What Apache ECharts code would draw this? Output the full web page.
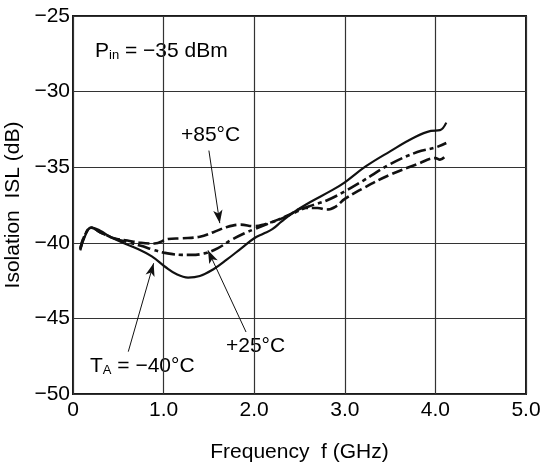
<!DOCTYPE html>
<html>
<head>
<meta charset="utf-8">
<script src="https://cdn.jsdelivr.net/npm/echarts@6/dist/echarts.min.js"></script>
<style>html,body{margin:0;padding:0;background:#fff}#c{width:541px;height:470px}</style>
</head>
<body>
<div id="c"></div>
<script>
// Frequency (GHz) / Isolation (dB)
var freqM40 = [0.08,0.13,0.2,0.3,0.41,0.55,0.71,0.87,1.02,1.15,1.27,1.4,1.55,1.7,1.85,2.0,2.1,2.2,2.3,2.43,2.62,2.85,3.0,3.23,3.5,3.76,3.95,4.05,4.12];
var islM40  = [-40.5,-39.6,-38.97,-39.2,-39.6,-40.0,-40.4,-40.9,-41.6,-42.1,-42.3,-42.2,-41.75,-41.1,-40.4,-39.7,-39.4,-39.1,-38.6,-38.0,-37.3,-36.55,-36.0,-34.95,-33.95,-33.05,-32.6,-32.55,-32.05];

var freqP85 = [0.08,0.13,0.2,0.3,0.45,0.6,0.75,0.9,1.05,1.2,1.4,1.55,1.7,1.85,2.0,2.1,2.25,2.4,2.55,2.7,2.8,2.9,3.0,3.2,3.5,3.8,4.0,4.05,4.12];
var islP85  = [-40.4,-39.5,-39.0,-39.3,-39.7,-39.85,-40.0,-40.05,-39.75,-39.7,-39.6,-39.3,-38.95,-38.8,-38.9,-38.8,-38.5,-38.1,-37.7,-37.7,-37.8,-37.6,-37.1,-36.4,-35.5,-34.8,-34.4,-34.5,-34.2];

var freqP25 = [0.08,0.13,0.2,0.3,0.45,0.6,0.75,0.88,1.0,1.1,1.2,1.3,1.45,1.6,1.75,1.9,2.0,2.15,2.3,2.45,2.6,2.8,3.0,3.2,3.5,3.8,4.0,4.12];
var islP25  = [-40.4,-39.5,-39.0,-39.3,-39.7,-39.95,-40.2,-40.45,-40.65,-40.75,-40.8,-40.8,-40.7,-40.35,-39.8,-39.35,-39.1,-38.75,-38.4,-38.0,-37.6,-37.2,-36.6,-35.9,-34.8,-34.0,-33.7,-33.4];

var xTicks = ["0","1.0","2.0","3.0","4.0","5.0"];
var yTicks = ["\u221250","\u221245","\u221240","\u221235","\u221230","\u221225"];

var notePin = "P{sub|in} = \u221235 dBm";
var label85 = "+85\u00b0C";
var label25 = "+25\u00b0C";
var labelM40 = "T{sub|A} = \u221240\u00b0C";

// arrows: [fromF, fromISL, toF, toISL]
var arrow85 = [1.50, -33.9, 1.62, -38.7];
var arrow25 = [1.91, -45.9, 1.49, -40.5];
var arrowM40 = [0.61, -47.2, 0.89, -41.35];

function zip(a, b) { return a.map(function (v, i) { return [v, b[i]]; }); }
function arrow(a) {
  return [[{coord: [a[0], a[1]], symbol: 'none'}, {coord: [a[2], a[3]], symbol: 'arrow', symbolSize: [7, 13]}]];
}

var FONT = '"Liberation Sans", Arial, sans-serif';
var FS = 21;
var chart = echarts.init(document.getElementById('c'));
chart.setOption({
  animation: false,
  textStyle: {fontFamily: FONT},
  grid: {left: 73, right: 15, top: 16, bottom: 76, show: true, borderColor: '#1a1a1a', borderWidth: 2,
         containLabel: false, outerBoundsMode: 'none'},
  xAxis: {
    type: 'value', min: 0, max: 5, interval: 1,
    name: 'Frequency  f (GHz)', nameLocation: 'middle', nameGap: 48,
    nameTextStyle: {fontSize: FS, color: '#000', fontFamily: FONT},
    axisLine: {show: false}, axisTick: {show: false},
    axisLabel: {fontSize: FS, color: '#000', margin: 6, fontFamily: FONT,
      formatter: function (v) { return xTicks[Math.round(v)]; }},
    splitLine: {lineStyle: {color: '#333', width: 1.2}}
  },
  yAxis: {
    type: 'value', min: -50, max: -25, interval: 5,
    name: 'Isolation  ISL (dB)', nameLocation: 'middle', nameGap: 44, nameRotate: 90,
    nameTextStyle: {fontSize: FS, color: '#000', fontFamily: FONT},
    axisLine: {show: false}, axisTick: {show: false},
    axisLabel: {fontSize: FS, color: '#000', margin: 3, fontFamily: FONT,
      formatter: function (v) { return yTicks[Math.round((v + 50) / 5)]; }},
    splitLine: {lineStyle: {color: '#333', width: 1.2}}
  },
  series: [
    {type: 'line', name: '-40', data: zip(freqM40, islM40), smooth: 0.4, showSymbol: false,
     lineStyle: {color: '#111', width: 2.2},
     markLine: {silent: true, symbol: ['none', 'arrow'], label: {show: false},
       lineStyle: {color: '#111', width: 1, type: 'solid'}, data: arrow(arrowM40).concat(arrow(arrow85), arrow(arrow25))}},
    {type: 'line', name: '+85', data: zip(freqP85, islP85), smooth: 0.4, showSymbol: false,
     lineStyle: {color: '#111', width: 2.6, type: [11, 4]}},
    {type: 'line', name: '+25', data: zip(freqP25, islP25), smooth: 0.4, showSymbol: false,
     lineStyle: {color: '#111', width: 2.6, type: [13, 4, 4, 4]}}
  ],
  graphic: [
    {type: 'text', left: 95, top: 41, style: {text: notePin, fontSize: FS, fill: '#000', fontFamily: FONT,
      rich: {sub: {fontSize: 13, fill: '#000', fontFamily: FONT, padding: [8, 0, 0, 0]}}}},
    {type: 'text', left: 181, top: 125, style: {text: label85, fontSize: FS, fill: '#000', fontFamily: FONT}},
    {type: 'text', left: 226, top: 336, style: {text: label25, fontSize: FS, fill: '#000', fontFamily: FONT}},
    {type: 'text', left: 90, top: 356, style: {text: labelM40, fontSize: FS, fill: '#000', fontFamily: FONT,
      rich: {sub: {fontSize: 13, fill: '#000', fontFamily: FONT, padding: [8, 0, 0, 0]}}}}
  ]
});
</script>
</body>
</html>
